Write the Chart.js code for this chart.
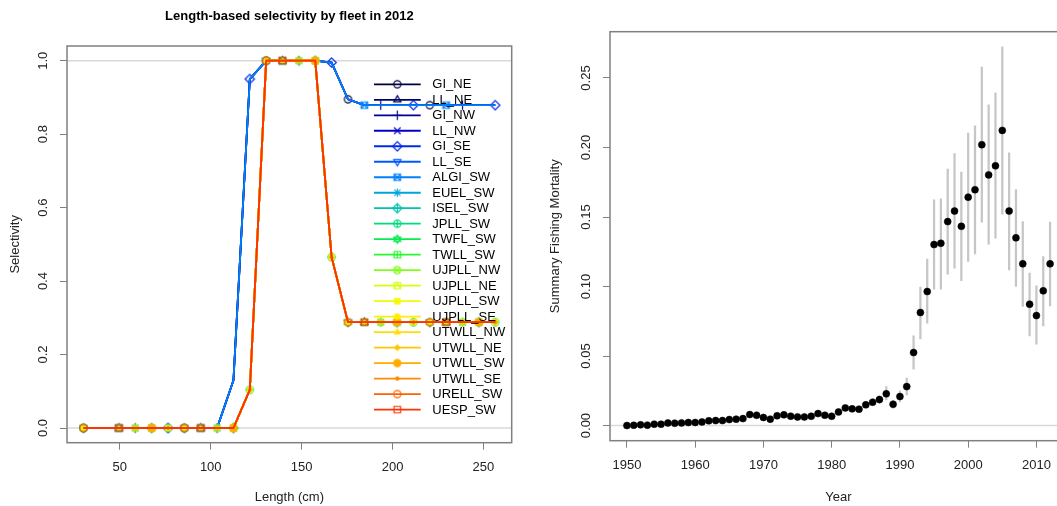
<!DOCTYPE html>
<html>
<head>
<meta charset="utf-8">
<script src="https://cdn.jsdelivr.net/npm/chart.js@4.4.1/dist/chart.umd.min.js"></script>
<style>
  html, body { margin: 0; padding: 0; overflow: hidden; background: #fff; }
  #left { position: absolute; left: 0; top: 0; width: 540px; height: 506px; }
  #right { position: absolute; left: 540px; top: 0; width: 540px; height: 506px; }
</style>
</head>
<body>
<div id="left"><canvas id="selexChart" width="540" height="506"></canvas></div>
<div id="right"><canvas id="fChart" width="540" height="506"></canvas></div>
<script>
// ---- left panel: selectivity at length ----
const lengthBins = [30, 49.5, 58.5, 67.5, 76.5, 85.5, 94.5, 103.5, 112.5, 121.5, 130.5, 139.5, 148.5,
    157.5, 166.5, 175.5, 184.5, 193.5, 202.5, 211.5, 220.5, 229.5, 238.5, 247.5, 256.5];
const gillnetSelex = [0, 0, 0, 0, 0, 0, 0, 0, 0.13, 0.95, 1, 1, 1, 1, 0.995, 0.895, 0.879,
    0.879, 0.879, 0.879, 0.879, 0.879, 0.879, 0.879, 0.879];
const longlineSelex = [0, 0, 0, 0, 0, 0, 0, 0, 0, 0.104, 1, 1, 1, 1, 0.465, 0.288, 0.288,
    0.288, 0.288, 0.288, 0.288, 0.288, 0.288, 0.288, 0.288];
const fleetNames = ["GI_NE", "LL_NE", "GI_NW", "LL_NW", "GI_SE", "LL_SE", "ALGI_SW", "EUEL_SW",
    "ISEL_SW", "JPLL_SW", "TWFL_SW", "TWLL_SW", "UJPLL_NW", "UJPLL_NE", "UJPLL_SW", "UJPLL_SE",
    "UTWLL_NW", "UTWLL_NE", "UTWLL_SW", "UTWLL_SE", "URELL_SW", "UESP_SW"];
const gillnetFleets = ["GI_NE", "GI_NW", "GI_SE", "ALGI_SW"];
const lengthTicks = [50, 100, 150, 200, 250];
const selexTicks = [0, 0.2, 0.4, 0.6, 0.8, 1.0];

// ---- right panel: summary F by year ----
const years = [1950, 1951, 1952, 1953, 1954, 1955, 1956, 1957, 1958, 1959,
    1960, 1961, 1962, 1963, 1964, 1965, 1966, 1967, 1968, 1969,
    1970, 1971, 1972, 1973, 1974, 1975, 1976, 1977, 1978, 1979,
    1980, 1981, 1982, 1983, 1984, 1985, 1986, 1987, 1988, 1989,
    1990, 1991, 1992, 1993, 1994, 1995, 1996, 1997, 1998, 1999,
    2000, 2001, 2002, 2003, 2004, 2005, 2006, 2007, 2008, 2009,
    2010, 2011, 2012];
const summaryF = [0.0000, 0.0002, 0.0005, 0.0003, 0.0010, 0.0010, 0.0019, 0.0017, 0.0019, 0.0022,
    0.0022, 0.0026, 0.0034, 0.0036, 0.0036, 0.0043, 0.0046, 0.0050, 0.0079, 0.0074,
    0.0058, 0.0046, 0.0070, 0.0077, 0.0067, 0.0062, 0.0062, 0.0067, 0.0086, 0.0074,
    0.0067, 0.0098, 0.0127, 0.0120, 0.0118, 0.0149, 0.0168, 0.0187, 0.0228, 0.0153,
    0.0209, 0.0280, 0.0525, 0.0813, 0.0964, 0.1302, 0.1311, 0.1467, 0.1543, 0.1433,
    0.1643, 0.1696, 0.2020, 0.1803, 0.1868, 0.2123, 0.1543, 0.1350, 0.1163, 0.0873,
    0.0791, 0.0969, 0.1163];
const lowerCI = [0.0000, 0.0001, 0.0004, 0.0002, 0.0008, 0.0008, 0.0016, 0.0014, 0.0016, 0.0018,
    0.0018, 0.0022, 0.0029, 0.0031, 0.0031, 0.0037, 0.0040, 0.0043, 0.0068, 0.0064,
    0.0050, 0.0039, 0.0060, 0.0066, 0.0057, 0.0053, 0.0053, 0.0057, 0.0073, 0.0063,
    0.0057, 0.0085, 0.0112, 0.0105, 0.0103, 0.0130, 0.0146, 0.0160, 0.0185, 0.0125,
    0.0170, 0.0221, 0.0406, 0.0624, 0.0737, 0.0981, 0.0981, 0.1089, 0.1132, 0.1043,
    0.1180, 0.1235, 0.1463, 0.1305, 0.1348, 0.1520, 0.1120, 0.1000, 0.0856, 0.0645,
    0.0586, 0.0717, 0.0861];
const upperCI = [0.0001, 0.0003, 0.0006, 0.0004, 0.0012, 0.0012, 0.0022, 0.0020, 0.0022, 0.0026,
    0.0026, 0.0030, 0.0039, 0.0041, 0.0041, 0.0049, 0.0052, 0.0057, 0.0090, 0.0084,
    0.0066, 0.0053, 0.0080, 0.0088, 0.0077, 0.0071, 0.0071, 0.0077, 0.0099, 0.0085,
    0.0077, 0.0111, 0.0142, 0.0135, 0.0133, 0.0168, 0.0190, 0.0214, 0.0280, 0.0181,
    0.0250, 0.0341, 0.0645, 0.0996, 0.1197, 0.1624, 0.1631, 0.1845, 0.1957, 0.1823,
    0.2103, 0.2156, 0.2578, 0.2307, 0.2393, 0.2724, 0.1962, 0.1698, 0.1468, 0.1096,
    0.1005, 0.1216, 0.1463];
const yearTicks = [1950, 1960, 1970, 1980, 1990, 2000, 2010];
const fTicks = [0, 0.05, 0.10, 0.15, 0.20, 0.25];

// rich.colors.short(22), as in r4ss
const fleetColors = ["#000040", "#000067", "#000096", "#0000C6", "#0029EC", "#0058FF", "#0081F9",
    "#00A4DB", "#00C2AF", "#02DA7E", "#09EB52", "#29F830", "#80FE1A", "#D6FF0C", "#F6F905",
    "#FDEE02", "#FFDE01", "#FFC700", "#FFAB00", "#FF8900", "#FF6100", "#FF3300"];

const FONT = '"Liberation Sans", Arial, sans-serif';
const TEXT = "#222";
const AXIS = "#808080";
Chart.defaults.font.family = FONT;
Chart.defaults.color = TEXT;

// R plotting symbols (pch 1..22) drawn onto little canvases
function makeMarker(pch, color) {
    const size = 13, c = document.createElement("canvas");
    c.width = c.height = size;
    const g = c.getContext("2d");
    const m = size / 2, r = 3.6;
    g.strokeStyle = color;
    g.fillStyle = color;
    g.lineWidth = 1.2;
    const circle = (rad) => { g.beginPath(); g.arc(m, m, rad, 0, 2 * Math.PI); };
    const square = (rad) => { g.beginPath(); g.rect(m - rad, m - rad, 2 * rad, 2 * rad); };
    const diamond = (rad) => {
        g.beginPath(); g.moveTo(m, m - rad); g.lineTo(m + rad, m); g.lineTo(m, m + rad); g.lineTo(m - rad, m); g.closePath();
    };
    const tri = (up, rad) => {
        const s = up ? 1 : -1;
        g.beginPath(); g.moveTo(m, m - s * rad * 1.15); g.lineTo(m + rad, m + s * rad * 0.6); g.lineTo(m - rad, m + s * rad * 0.6); g.closePath();
    };
    const plus = (rad) => {
        g.beginPath(); g.moveTo(m - rad, m); g.lineTo(m + rad, m); g.moveTo(m, m - rad); g.lineTo(m, m + rad); g.stroke();
    };
    const times = (rad) => {
        g.beginPath(); g.moveTo(m - rad, m - rad); g.lineTo(m + rad, m + rad); g.moveTo(m - rad, m + rad); g.lineTo(m + rad, m - rad); g.stroke();
    };
    switch (pch) {
        case 1: circle(r); g.stroke(); break;
        case 2: tri(true, r); g.stroke(); break;
        case 3: plus(r * 1.3); break;
        case 4: times(r * 0.9); break;
        case 5: diamond(r * 1.3); g.stroke(); break;
        case 6: tri(false, r); g.stroke(); break;
        case 7: square(r * 0.9); g.stroke(); times(r * 0.9); break;
        case 8: plus(r * 1.2); times(r * 0.85); break;
        case 9: diamond(r * 1.3); g.stroke(); plus(r * 1.3); break;
        case 10: circle(r); g.stroke(); plus(r); break;
        case 11: tri(true, r); g.stroke(); tri(false, r); g.stroke(); break;
        case 12: square(r * 0.9); g.stroke(); plus(r * 0.9); break;
        case 13: circle(r); g.stroke(); times(r * 0.7); break;
        case 14:
            square(r * 0.9); g.stroke();
            g.beginPath(); g.moveTo(m - r * 0.9, m + r * 0.9); g.lineTo(m, m - r * 0.9); g.lineTo(m + r * 0.9, m + r * 0.9); g.stroke();
            break;
        case 15: square(r * 0.9); g.fill(); break;
        case 16: circle(r * 0.9); g.fill(); break;
        case 17: tri(true, r); g.fill(); break;
        case 18: diamond(r * 0.95); g.fill(); break;
        case 19: circle(r); g.fill(); g.stroke(); break;
        case 20: circle(r * 0.6); g.fill(); break;
        case 21: circle(r); g.stroke(); break;
        case 22: square(r * 0.9); g.stroke(); break;
    }
    return c;
}
const fleetMarkers = fleetNames.map((n, i) => makeMarker(i + 1, fleetColors[i]));

// light reference lines + the R box around the plot region
function boxPlugin(refValues) {
    return {
        id: "rBox",
        beforeDatasetsDraw(chart) {
            const {ctx, chartArea: a, scales: {y}} = chart;
            ctx.save();
            ctx.strokeStyle = "#d9d9d9";
            ctx.lineWidth = 1.5;
            for (const v of refValues) {
                const py = y.getPixelForValue(v);
                ctx.beginPath();
                ctx.moveTo(a.left, py);
                ctx.lineTo(a.right, py);
                ctx.stroke();
            }
            ctx.strokeStyle = AXIS;
            ctx.lineWidth = 1.5;
            ctx.strokeRect(a.left, a.top, a.right - a.left, a.bottom - a.top);
            ctx.restore();
        }
    };
}

// y tick labels rotated like R's default las = 0
function rotatedYLabels(ticks, digits) {
    return {
        id: "rYLabels",
        afterDraw(chart) {
            const {ctx, chartArea, scales: {y}} = chart;
            ctx.save();
            ctx.font = "13px " + FONT;
            ctx.fillStyle = TEXT;
            ctx.textAlign = "center";
            ctx.textBaseline = "middle";
            for (const v of ticks) {
                ctx.save();
                ctx.translate(chartArea.left - 23.5, y.getPixelForValue(v));
                ctx.rotate(-Math.PI / 2);
                ctx.fillText(v.toFixed(digits), 0, 0);
                ctx.restore();
            }
            ctx.restore();
        }
    };
}

// legend drawn inside the plot, no box (bty = "n")
const fleetLegend = {
    id: "fleetLegend",
    afterDatasetsDraw(chart) {
        const ctx = chart.ctx;
        const top = 84.3, gap = 15.49;
        ctx.save();
        ctx.font = "13px " + FONT;
        ctx.textBaseline = "middle";
        ctx.textAlign = "left";
        fleetNames.forEach((name, i) => {
            const y = top + i * gap;
            ctx.strokeStyle = fleetColors[i];
            ctx.lineWidth = 1.8;
            ctx.beginPath();
            ctx.moveTo(374, y);
            ctx.lineTo(420.7, y);
            ctx.stroke();
            const mk = fleetMarkers[i];
            ctx.drawImage(mk, 397.3 - mk.width / 2, y - mk.height / 2);
            ctx.fillStyle = "#000";
            ctx.fillText(name, 432.3, y + 0.5);
        });
        ctx.restore();
    }
};

const selexDatasets = fleetNames.map((name, i) => {
    const curve = gillnetFleets.includes(name) ? gillnetSelex : longlineSelex;
    return {
        label: name,
        data: lengthBins.map((x, k) => ({x: x, y: curve[k]})),
        borderColor: fleetColors[i],
        backgroundColor: fleetColors[i],
        borderWidth: 1.8,
        pointStyle: fleetMarkers[i],
        // r4ss only marks every 5th bin, offset per fleet
        pointRadius: (c) => (c.dataIndex % 5 === i % 5 ? 4 : 0),
        tension: 0,
        fill: false,
        order: fleetNames.length - i
    };
});

new Chart(document.getElementById("selexChart"), {
    type: "line",
    data: {datasets: selexDatasets},
    options: {
        responsive: false,
        animation: false,
        events: [],
        layout: {padding: {top: 0, right: 28.3, left: 0, bottom: 0}},
        plugins: {
            legend: {display: false},
            tooltip: {enabled: false},
            title: {
                display: true,
                fullSize: false,
                text: "Length-based selectivity by fleet in 2012",
                color: "#000",
                font: {size: 13, weight: "bold"},
                padding: {top: 8.5, bottom: 21.9}
            }
        },
        scales: {
            x: {
                type: "linear",
                min: 20.94,
                max: 265.56,
                afterBuildTicks: (s) => { s.ticks = lengthTicks.map(v => ({value: v})); },
                afterFit: (s) => { s.height = 63.3; },
                border: {display: false},
                grid: {drawOnChartArea: false, tickLength: 7, color: AXIS},
                ticks: {font: {size: 13}, color: TEXT, padding: 9.5, maxRotation: 0, callback: (v) => String(v)},
                title: {display: true, text: "Length (cm)", font: {size: 13}, color: TEXT, padding: {top: 0, bottom: 1.2}}
            },
            y: {
                type: "linear",
                min: -0.04,
                max: 1.04,
                afterBuildTicks: (s) => { s.ticks = selexTicks.map(v => ({value: v})); },
                afterFit: (s) => { s.width = 67; },
                border: {display: false},
                grid: {drawOnChartArea: false, tickLength: 7, color: AXIS},
                ticks: {display: false},
                title: {display: true, text: "Selectivity", font: {size: 13}, color: TEXT, padding: {top: 7.2, bottom: 0}}
            }
        }
    },
    plugins: [boxPlugin([0, 1]), rotatedYLabels(selexTicks, 1), fleetLegend]
});

new Chart(document.getElementById("fChart"), {
    type: "scatter",
    data: {
        datasets: [
            {
                type: "scatter",
                label: "Summary F",
                data: years.map((yr, i) => ({x: yr, y: summaryF[i]})),
                backgroundColor: "#000",
                borderColor: "#000",
                borderWidth: 0.5,
                pointRadius: 3.5,
                order: 0
            },
            {
                type: "bar",
                label: "95% interval",
                data: years.map((yr, i) => ({x: yr, y: [lowerCI[i], upperCI[i]]})),
                backgroundColor: "#c6c6c6",
                borderWidth: 0,
                barThickness: 1.6,
                order: 1
            }
        ]
    },
    options: {
        responsive: false,
        animation: false,
        events: [],
        layout: {padding: {top: 31.7, right: 13, left: 0, bottom: 0}},
        plugins: {legend: {display: false}, tooltip: {enabled: false}},
        scales: {
            x: {
                type: "linear",
                offset: false,
                min: 1947.52,
                max: 2014.48,
                afterBuildTicks: (s) => { s.ticks = yearTicks.map(v => ({value: v})); },
                afterFit: (s) => { s.height = 65.3; },
                border: {display: false},
                grid: {drawOnChartArea: false, tickLength: 7, color: AXIS, offset: false},
                ticks: {font: {size: 13}, color: TEXT, padding: 9.5, maxRotation: 0, callback: (v) => String(v)},
                title: {display: true, text: "Year", font: {size: 13}, color: TEXT, padding: {top: 0, bottom: 1.2}}
            },
            y: {
                type: "linear",
                min: -0.0109,
                max: 0.2833,
                afterBuildTicks: (s) => { s.ticks = fTicks.map(v => ({value: v})); },
                afterFit: (s) => { s.width = 70; },
                border: {display: false},
                grid: {drawOnChartArea: false, tickLength: 7, color: AXIS},
                ticks: {display: false},
                title: {display: true, text: "Summary Fishing Mortality", font: {size: 13}, color: TEXT, padding: {top: 7.2, bottom: 0}}
            }
        }
    },
    plugins: [boxPlugin([0]), rotatedYLabels(fTicks, 2)]
});
</script>
</body>
</html>
